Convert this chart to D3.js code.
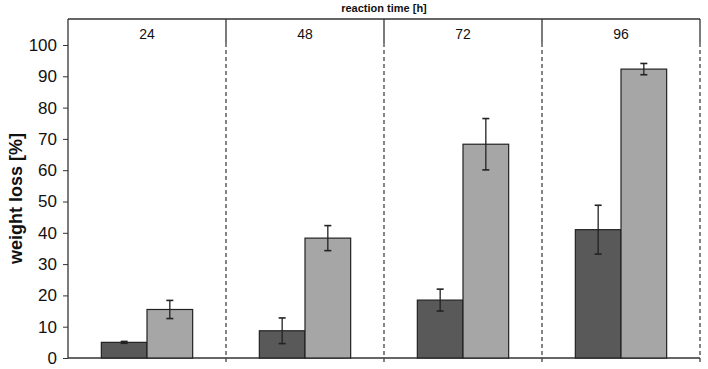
<!DOCTYPE html>
<head>
<meta charset="utf-8">
<script src="https://cdn.jsdelivr.net/npm/d3@7"></script>
<style>
body{ margin:0; background:#fff; }
svg{ font-family: Arial, "Liberation Sans", sans-serif; }
</style>
</head>
<body>
<div id="chart"></div>
<script>

// data ------------------------------------------------------------
var times = ["24", "48", "72", "96"]
var series = ["a", "b"]
var darkVals = [5.0, 8.7, 18.5, 41.0]
var darkErr = [0.3, 4.1, 3.5, 7.8]
var lightVals = [15.5, 38.3, 68.3, 92.3]
var lightErr = [2.9, 4.0, 8.2, 1.8]
var yTicks = [0, 10, 20, 30, 40, 50, 60, 70, 80, 90, 100]

var colors = {a: "#595959", b: "#a6a6a6"}

// layout ----------------------------------------------------------
// (note: "top" is reserved on window, so use pTop etc.)
var W = 708, H = 369
var pLeft = 68, pRight = 700, pTop = 19, pBottom = 358
var headerH = 24

var svg = d3.select("#chart").append("svg")
  .attr("width", W).attr("height", H)

var x = d3.scaleBand().domain(times).range([pLeft, pRight]).padding(0)
var x1 = d3.scaleBand().domain(series).range([0, x.bandwidth()])
  .paddingOuter(0.73).paddingInner(0)

var y = d3.scaleLinear().domain([0, 100]).range([pBottom, 45])

// y axis
var yAxis = svg.append("g")
  .attr("transform", "translate(" + pLeft + ",0)")
  .call(d3.axisLeft(y).tickValues(yTicks).tickSize(5).tickPadding(6))
yAxis.select(".domain").remove()
yAxis.selectAll("line").attr("stroke", "#333")
yAxis.selectAll("text").attr("font-size", 17).attr("fill", "#111")

// frame lines
svg.append("line").attr("x1", pLeft).attr("x2", pLeft).attr("y1", pTop).attr("y2", pBottom)
  .attr("stroke", "#333").attr("stroke-width", 1.3)
svg.append("line").attr("x1", pLeft).attr("x2", pRight).attr("y1", pTop).attr("y2", pTop)
  .attr("stroke", "#333").attr("stroke-width", 1.3)
svg.append("line").attr("x1", pLeft).attr("x2", pRight).attr("y1", pBottom).attr("y2", pBottom)
  .attr("stroke", "#333").attr("stroke-width", 1.3)

// group separators: solid in header, dashed below
var seps = times.slice(1).map(function(t){ return x(t) }).concat([pRight])
seps.forEach(function(sx){
  svg.append("line").attr("x1", sx).attr("x2", sx).attr("y1", pTop).attr("y2", pTop + headerH)
    .attr("stroke", "#333").attr("stroke-width", 1.3)
  svg.append("line").attr("x1", sx).attr("x2", sx).attr("y1", pTop + headerH).attr("y2", pBottom + 5)
    .attr("stroke", "#444").attr("stroke-width", 1.3).attr("stroke-dasharray", "4,3")
})

// header labels
svg.selectAll(".hdr").data(times).enter().append("text")
  .attr("x", function(d){ return x(d) + x.bandwidth() / 2 })
  .attr("y", 39)
  .attr("text-anchor", "middle")
  .attr("font-size", 14)
  .attr("fill", "#111")
  .text(function(d){ return d })

// bars
var rows = times.map(function(t, i){
  return [
    {t: t, s: "a", v: darkVals[i], e: darkErr[i]},
    {t: t, s: "b", v: lightVals[i], e: lightErr[i]}
  ]
})
var flat = [].concat.apply([], rows)

svg.selectAll(".bar").data(flat).enter().append("rect")
  .attr("x", function(d){ return x(d.t) + x1(d.s) })
  .attr("width", x1.bandwidth())
  .attr("y", function(d){ return y(d.v) })
  .attr("height", function(d){ return y(0) - y(d.v) })
  .attr("fill", function(d){ return colors[d.s] })
  .attr("stroke", "#222").attr("stroke-width", 1.2)

// error bars
var eb = svg.selectAll(".err").data(flat).enter().append("g")
eb.append("line")
  .attr("x1", function(d){ return x(d.t) + x1(d.s) + x1.bandwidth() / 2 })
  .attr("x2", function(d){ return x(d.t) + x1(d.s) + x1.bandwidth() / 2 })
  .attr("y1", function(d){ return y(d.v + d.e) })
  .attr("y2", function(d){ return y(d.v - d.e) })
  .attr("stroke", "#222").attr("stroke-width", 1.3)
;[1, -1].forEach(function(sg){
  eb.append("line")
    .attr("x1", function(d){ return x(d.t) + x1(d.s) + x1.bandwidth() / 2 - 3.5 })
    .attr("x2", function(d){ return x(d.t) + x1(d.s) + x1.bandwidth() / 2 + 3.5 })
    .attr("y1", function(d){ return y(d.v + sg * d.e) })
    .attr("y2", function(d){ return y(d.v + sg * d.e) })
    .attr("stroke", "#222").attr("stroke-width", 1.6)
})

// titles
svg.append("text")
  .attr("x", (pLeft + pRight) / 2).attr("y", 12)
  .attr("text-anchor", "middle")
  .attr("font-size", 11).attr("font-weight", "bold").attr("fill", "#111")
  .text("reaction time [h]")

svg.append("text")
  .attr("transform", "translate(22," + ((pTop + pBottom) / 2 + 10) + ") rotate(-90)")
  .attr("text-anchor", "middle")
  .attr("font-size", 18).attr("font-weight", "bold").attr("fill", "#111")
  .text("weight loss [%]")

</script>
</body>
